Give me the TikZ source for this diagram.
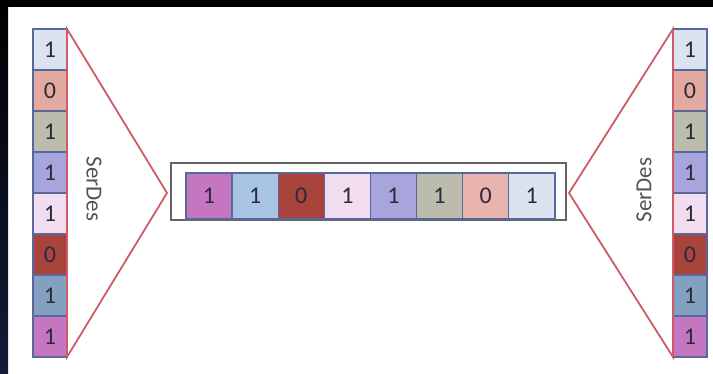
\documentclass[tikz,border=0pt]{standalone}
\usepackage{fontspec}
\setmainfont{Carlito}
\definecolor{cA}{HTML}{DCE3F0}
\definecolor{cB}{HTML}{E3A8A0}
\definecolor{cC}{HTML}{BCBCAC}
\definecolor{cD}{HTML}{A8A4DC}
\definecolor{cE}{HTML}{F2DCF0}
\definecolor{cF}{HTML}{A8443C}
\definecolor{cG}{HTML}{84A0C0}
\definecolor{cH}{HTML}{C477C0}
\definecolor{cI}{HTML}{A8C4E4}
\definecolor{cJ}{HTML}{EAB4AE}
\definecolor{cellline}{HTML}{56699A}
\definecolor{redline}{HTML}{D05A66}
\definecolor{boxline}{HTML}{666666}
\definecolor{digit}{HTML}{2A2A38}
\definecolor{navy}{HTML}{141A38}
\begin{document}
\begin{tikzpicture}[x=1pt,y=-1pt,
  bit/.style={draw=cellline,line width=1.4pt,inner sep=0pt,outer sep=0pt,
    font=\fontsize{24}{24}\selectfont,text=digit},
  vbit/.style={bit,minimum width=34pt,minimum height=41pt},
  hbit/.style={bit,minimum width=46.1pt,minimum height=46pt},
  wedge/.style={draw=redline,line width=1.8pt,line join=miter},
  lbl/.style={font=\fontsize{23}{23}\selectfont,text=black!68}]
\useasboundingbox (0,0) rectangle (713,374);
\fill[white] (0,0) rectangle (713,374);
\shade[top color=black,bottom color=navy] (0,0) rectangle (8,374);
\fill[black] (0,0) rectangle (713,7);
% outer bus box
\node[draw=boxline,line width=1.2pt,minimum width=395pt,minimum height=57pt,inner sep=0pt,outer sep=0pt] (bus) at (368.5,191.5) {};
% wedges
\coordinate (apexL) at (167,193);
\coordinate (apexR) at (569,193);
% left column
\foreach \i/\c/\d in {1/cA/1,2/cB/0,3/cC/1,4/cD/1,5/cE/1,6/cF/0,7/cG/1,8/cH/1}{
  \node[vbit,fill=\c] (L\i) at (50,{29+41*(\i-0.5)}) {\d};
  \node[vbit,fill=\c] (R\i) at (690,{29+41*(\i-0.5)}) {\d};
}
% center row
\foreach \i/\c/\d in {1/cH/1,2/cI/1,3/cF/0,4/cE/1,5/cD/1,6/cC/1,7/cJ/0,8/cA/1}{
  \node[hbit,fill=\c] (C\i) at ({186+46.1*(\i-0.5)},196) {\d};
}
\draw[wedge] (L1.north east) -- (apexL) -- (L8.south east) -- cycle;
\draw[wedge] (R1.north west) -- (apexR) -- (R8.south west) -- cycle;
\node[lbl,rotate=-90] (serL) at (94,189) {SerDes};
\node[lbl,rotate=90] (serR) at (644,190) {SerDes};
\end{tikzpicture}
\end{document}
